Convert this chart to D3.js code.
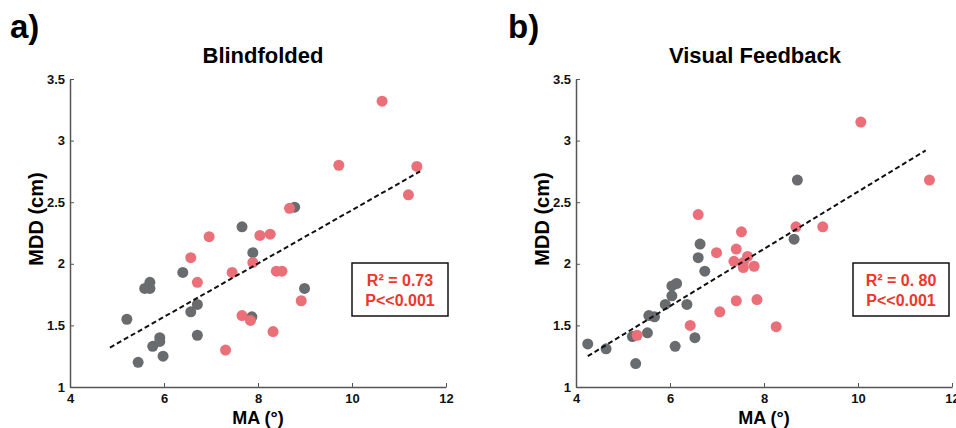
<!DOCTYPE html>
<html>
<head>
<meta charset="utf-8">
<script src="https://cdn.jsdelivr.net/npm/d3@7"></script>
<style>
  body { margin: 0; background: #fff; }
  text { font-family: "Liberation Sans", Arial, sans-serif; font-weight: bold; }
</style>
</head>
<body>
<div id="chart"></div>
<script>
// ---- data ----
let xTicks = [4, 6, 8, 10, 12];
let yTicks = [1, 1.5, 2, 2.5, 3, 3.5];

// a) Blindfolded
let blindGrayMA  = [5.45, 5.21, 5.59, 5.70, 5.70, 5.76, 5.91, 5.91, 5.98, 6.40, 6.57, 6.71, 6.71, 7.66, 7.89, 7.87, 8.78, 8.99];
let blindGrayMDD = [1.20, 1.55, 1.80, 1.80, 1.85, 1.33, 1.40, 1.37, 1.25, 1.93, 1.61, 1.67, 1.42, 2.30, 2.09, 1.57, 2.46, 1.80];
let blindPinkMA  = [6.57, 6.71, 6.96, 7.31, 7.45, 7.66, 7.84, 7.89, 8.04, 8.26, 8.32, 8.39, 8.51, 8.67, 8.92, 9.72, 10.64, 11.20, 11.38];
let blindPinkMDD = [2.05, 1.85, 2.22, 1.30, 1.93, 1.58, 1.54, 2.01, 2.23, 2.24, 1.45, 1.94, 1.94, 2.45, 1.70, 2.80, 3.32, 2.56, 2.79];
let blindFitMA  = [4.85, 11.45];
let blindFitMDD = [1.32, 2.75];

// b) Visual Feedback
let visGrayMA  = [4.25, 4.64, 5.27, 5.20, 5.52, 5.55, 5.67, 5.90, 6.04, 6.14, 6.04, 6.11, 6.36, 6.53, 6.60, 6.64, 6.74, 8.64, 8.71];
let visGrayMDD = [1.35, 1.31, 1.19, 1.41, 1.44, 1.58, 1.57, 1.67, 1.82, 1.84, 1.74, 1.33, 1.67, 1.40, 2.05, 2.16, 1.94, 2.20, 2.68];
let visPinkMA  = [5.30, 6.43, 6.60, 6.99, 7.06, 7.36, 7.41, 7.41, 7.52, 7.56, 7.56, 7.65, 7.79, 7.85, 8.26, 8.68, 9.25, 10.06, 11.52];
let visPinkMDD = [1.42, 1.50, 2.40, 2.09, 1.61, 2.02, 2.12, 1.70, 2.26, 2.01, 1.97, 2.06, 1.98, 1.71, 1.49, 2.30, 2.30, 3.15, 2.68];
let visFitMA  = [4.25, 11.44];
let visFitMDD = [1.25, 2.92];

let panels = [
  { tag: "a)", title: "Blindfolded", stats: ["R\u00b2 = 0.73", "P<<0.001"],
    gx: blindGrayMA, gy: blindGrayMDD, px: blindPinkMA, py: blindPinkMDD, fx: blindFitMA, fy: blindFitMDD,
    left: 70, tagX: 10, titleX: 263, boxX: 352 },
  { tag: "b)", title: "Visual Feedback", stats: ["R\u00b2 = 0. 80", "P<<0.001"],
    gx: visGrayMA, gy: visGrayMDD, px: visPinkMA, py: visPinkMDD, fx: visFitMA, fy: visFitMDD,
    left: 576, tagX: 508, titleX: 755, boxX: 853 }
];

let grey = "#696c6e";
let pink = "#ea6f79";
let red = "#f0352b";

let svg = d3.select("#chart").append("svg")
    .attr("width", 956)
    .attr("height", 428);

panels.forEach(function (p) {
    let x = d3.scaleLinear().domain([4, 12]).range([p.left, p.left + 376]);
    let y = d3.scaleLinear().domain([1, 3.5]).range([387, 79]);

    svg.append("text")
        .attr("x", p.tagX).attr("y", 38)
        .style("font-size", "33px")
        .text(p.tag);

    svg.append("text")
        .attr("x", p.titleX).attr("y", 63)
        .attr("text-anchor", "middle")
        .style("font-size", "22px")
        .text(p.title);

    // points
    let g = svg.append("g");
    p.gx.forEach(function (d, i) {
        g.append("circle")
            .attr("cx", x(d)).attr("cy", y(p.gy[i]))
            .attr("r", 5.5).attr("fill", grey);
    });
    p.px.forEach(function (d, i) {
        g.append("circle")
            .attr("cx", x(d)).attr("cy", y(p.py[i]))
            .attr("r", 5.5).attr("fill", pink);
    });

    // fit line
    svg.append("line")
        .attr("x1", x(p.fx[0])).attr("y1", y(p.fy[0]))
        .attr("x2", x(p.fx[1])).attr("y2", y(p.fy[1]))
        .attr("stroke", "#111")
        .attr("stroke-width", 2)
        .attr("stroke-dasharray", "5,3");

    // axes
    let xa = svg.append("g")
        .attr("transform", "translate(0,387)")
        .call(d3.axisBottom(x).tickValues(xTicks).tickFormat(d => String(d))
            .tickSizeInner(-4).tickSizeOuter(0).tickPadding(7));
    let ya = svg.append("g")
        .attr("transform", "translate(" + p.left + ",0)")
        .call(d3.axisLeft(y).tickValues(yTicks).tickFormat(d => String(d))
            .tickSizeInner(-4).tickSizeOuter(0).tickPadding(5));
    [xa, ya].forEach(function (a) {
        a.select(".domain").attr("stroke", "#555").attr("stroke-width", 1.5);
        a.selectAll(".tick line").attr("stroke", "#555");
        a.selectAll(".tick text")
            .style("font-size", "13px")
            .style("font-family", "'Liberation Sans', Arial, sans-serif")
            .style("font-weight", "bold")
            .attr("fill", "#111");
    });

    svg.append("text")
        .attr("x", p.left + 188).attr("y", 424)
        .attr("text-anchor", "middle")
        .style("font-size", "18px")
        .text("MA (\u00b0)");

    svg.append("text")
        .attr("transform", "translate(" + (p.left - 27) + ",219) rotate(-90)")
        .attr("text-anchor", "middle")
        .style("font-size", "20px")
        .text("MDD (cm)");

    // stats box
    svg.append("rect")
        .attr("x", p.boxX).attr("y", 263)
        .attr("width", 96).attr("height", 53)
        .attr("fill", "#fff")
        .attr("stroke", "#111")
        .attr("stroke-width", 1.5);
    p.stats.forEach(function (s, i) {
        svg.append("text")
            .attr("x", p.boxX + 48).attr("y", 286 + i * 20)
            .attr("text-anchor", "middle")
            .attr("fill", red)
            .style("font-size", "16px")
            .text(s);
    });
});
</script>
</body>
</html>
